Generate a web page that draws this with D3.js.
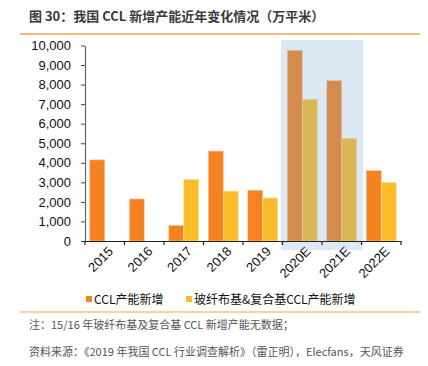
<!DOCTYPE html>
<html><head><meta charset="utf-8">
<script src="https://cdn.jsdelivr.net/npm/d3@7"></script>
<style>body{margin:0;background:#fff}svg{display:block}</style>
</head><body>
<svg id="c" width="428" height="366"></svg>
<script>
const categories = ["2015","2016","2017","2018","2019","2020E","2021E","2022E"];
const seriesNames = ["CCL产能新增","玻纤布基&复合基CCL产能新增"];
const cclValues = [4150, 2150, 800, 4600, 2600, 9750, 8200, 3600];
const glassValues = [null, null, 3150, 2550, 2200, 7250, 5250, 3000];
const yTicks = [0,1000,2000,3000,4000,5000,6000,7000,8000,9000,10000];
const highlight = ["2020E","2021E"];
const colors = ["#f58220","#fbbc2b"];

const svg = d3.select("#c");
const font = "'Liberation Sans', Arial, sans-serif";
const cjk = "'Noto Sans CJK SC', sans-serif";

// title
svg.append("text").attr("x",29).attr("y",21).attr("font-family",cjk).attr("font-weight","bold")
  .attr("font-size",13).attr("fill","#3a3a3a").text("图 30：我国 CCL 新增产能近年变化情况（万平米）");
svg.append("line").attr("x1",20).attr("x2",420).attr("y1",34).attr("y2",34).attr("stroke","#f7a24d").attr("stroke-width",1.5);

const x0 = d3.scaleBand().domain(categories).range([85,401]).padding(0);
const x1 = d3.scaleBand().domain([0,1]).range([0,x0.bandwidth()]).paddingInner(0).paddingOuter(0.32);
const y = d3.scaleLinear().domain([0,10000]).range([241,45.5]);

const g = svg.append("g");
const data = categories.map((c,i)=>({c, v:[cclValues[i], glassValues[i]]}));
data.forEach(d=>{
  d.v.forEach((v,k)=>{
    if(v==null) return;
    g.append("rect").attr("x",x0(d.c)+x1(k)).attr("width",x1.bandwidth())
      .attr("y",y(v)).attr("height",y(0)-y(v)).attr("fill",colors[k])
      .attr("stroke", k===0?"#fbc9a0":"#fde0a0").attr("stroke-width",0.6);
  });
});

// highlight overlay
const hx0 = x0(highlight[0]) - 1.5, hx1 = x0(highlight[1]) + x0.bandwidth() + 1.5;
svg.append("rect").attr("x",hx0).attr("width",hx1-hx0).attr("y",y(10000)-5.5).attr("height",250-(y(10000)-5.5))
  .attr("fill","rgb(119,163,215)").attr("opacity",0.25);

// y axis
const ya = svg.append("g").attr("transform","translate(85,0)")
  .call(d3.axisLeft(y).tickValues(yTicks).tickFormat(d3.format(",")).tickSize(4).tickSizeOuter(0));
ya.selectAll("text").attr("font-family",font).attr("font-size",13).attr("fill","#111").attr("dx",-7);
ya.select(".domain").attr("stroke","#666").attr("stroke-width",1.2);
ya.selectAll(".tick line").attr("stroke","#444");

// x axis
const xa = svg.append("g").attr("transform","translate(0,241)")
  .call(d3.axisBottom(x0).tickSize(0).tickSizeOuter(0));
xa.select(".domain").attr("stroke","#222").attr("stroke-width",1.2);
xa.selectAll(".tick text").attr("font-family",font).attr("font-size",13).attr("fill","#111")
  .attr("text-anchor","end").attr("transform","translate(6,8) rotate(-45)").attr("dy","0.35em").attr("y",0);
const bounds = categories.map(c=>x0(c)).concat([x0(categories[categories.length-1])+x0.bandwidth()]);
xa.selectAll(".bt").data(bounds).join("line").attr("class","bt")
  .attr("x1",d=>d).attr("x2",d=>d).attr("y1",0).attr("y2",4).attr("stroke","#222").attr("stroke-width",1.2);

// legend
const lg = svg.append("g");
const lx = [86, 186];
seriesNames.forEach((n,i)=>{
  lg.append("rect").attr("x",lx[i]).attr("y",296).attr("width",6).attr("height",6).attr("fill",colors[i]);
  lg.append("text").attr("x",lx[i]+8).attr("y",304).attr("font-family","'Noto Sans CJK SC', sans-serif")
    .attr("font-size",12).attr("fill","#111").text(n);
});

svg.append("line").attr("x1",20).attr("x2",420).attr("y1",312).attr("y2",312).attr("stroke","#f7a24d").attr("stroke-width",1.2);

svg.append("text").attr("x",29).attr("y",329).attr("font-family",cjk).attr("font-size",11).attr("fill","#555")
  .text("注：15/16 年玻纤布基及复合基 CCL 新增产能无数据；");
svg.append("text").attr("x",29).attr("y",356).attr("font-family",cjk).attr("font-size",11).attr("fill","#555")
  .text("资料来源：《2019 年我国 CCL 行业调查解析》（雷正明），Elecfans，天风证券");
</script>
</body></html>
